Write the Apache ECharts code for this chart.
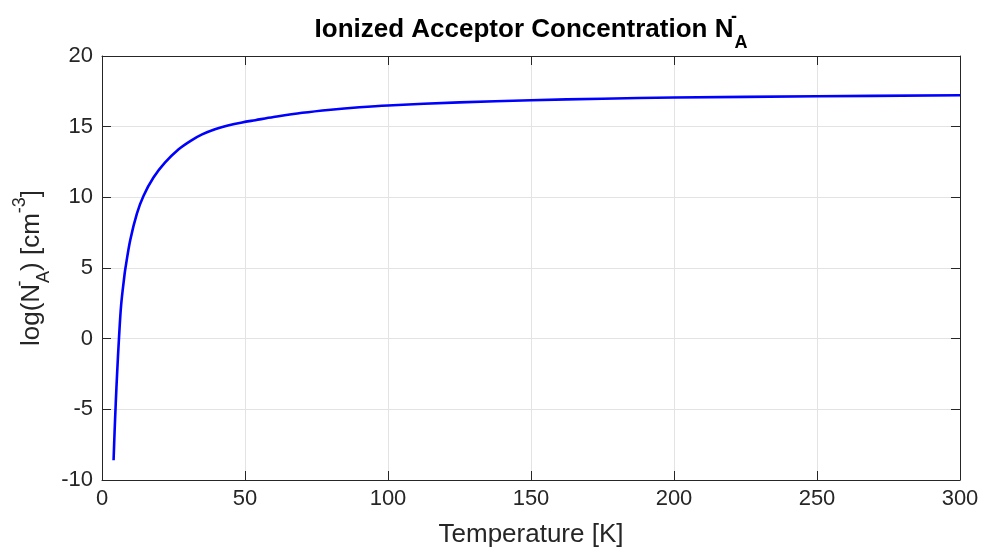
<!DOCTYPE html>
<html>
<head>
<meta charset="utf-8">
<title>Ionized Acceptor Concentration</title>
<script src="https://cdn.jsdelivr.net/npm/echarts@6/dist/echarts.min.js"></script>
<style>
  html, body { margin: 0; padding: 0; background: #ffffff; }
  #chart { width: 984px; height: 554px; }
</style>
</head>
<body>
<div id="chart"></div>
<script>
// Temperature samples [K] and log10 of the ionized acceptor density [cm^-3]
const temperature = [4.05, 4.4, 4.8, 5.3, 5.9, 6.7, 7.8, 8.2, 9.9, 12.2, 14.5, 18, 22, 26.8, 31, 35, 39.5, 44, 49, 53.6, 60, 70, 80, 90, 100, 125, 150, 175, 200, 250, 300];
const logNA = [-8.6, -6.6, -4.6, -2.4, -0.1, 2.4, 4.4, 5.0, 7.0, 8.85, 10.1, 11.4, 12.45, 13.4, 14.0, 14.45, 14.82, 15.08, 15.3, 15.46, 15.68, 15.98, 16.2, 16.37, 16.5, 16.72, 16.87, 16.98, 17.06, 17.15, 17.22];

const xTicks = [0, 50, 100, 150, 200, 250, 300];
const yTicks = [-10, -5, 0, 5, 10, 15, 20];

const FONT = "'Liberation Sans', Arial, Helvetica, sans-serif";
const AXIS_COLOR = '#262626';
const GRID_COLOR = '#e3e3e3';

const chart = echarts.init(document.getElementById('chart'), null, { renderer: 'canvas' });

const points = temperature.map((t, i) => [t, logNA[i]]);

const xRange = { min: xTicks[0], max: xTicks[xTicks.length - 1], interval: xTicks[1] - xTicks[0] };
const yRange = { min: yTicks[0], max: yTicks[yTicks.length - 1], interval: yTicks[1] - yTicks[0] };

const boxAxisCommon = {
  axisLine: { show: true, onZero: false, lineStyle: { color: AXIS_COLOR, width: 1 } },
  axisTick: { show: true, inside: true, length: 9, lineStyle: { color: AXIS_COLOR, width: 1 } },
};

chart.setOption({
  backgroundColor: '#ffffff',
  animation: false,
  grid: {
    left: 102, right: 24, top: 56, bottom: 74,
    containLabel: false,
    show: false
  },
  xAxis: [
    Object.assign({
      type: 'value',
      position: 'bottom',
      ...xRange,
      name: 'Temperature [K]',
      nameLocation: 'middle',
      nameGap: 42,
      nameTextStyle: { fontFamily: FONT, fontSize: 26, color: AXIS_COLOR },
      axisLabel: { fontFamily: FONT, fontSize: 22, color: AXIS_COLOR, margin: 8 },
      splitLine: { show: true, lineStyle: { color: GRID_COLOR, width: 1 } }
    }, boxAxisCommon),
    Object.assign({
      type: 'value',
      position: 'top',
      ...xRange,
      axisLabel: { show: false },
      splitLine: { show: false }
    }, boxAxisCommon)
  ],
  yAxis: [
    Object.assign({
      type: 'value',
      position: 'left',
      ...yRange,
      axisLabel: { fontFamily: FONT, fontSize: 22, color: AXIS_COLOR, margin: 9 },
      splitLine: { show: true, lineStyle: { color: GRID_COLOR, width: 1 } }
    }, boxAxisCommon),
    Object.assign({
      type: 'value',
      position: 'right',
      ...yRange,
      axisLabel: { show: false },
      splitLine: { show: false }
    }, boxAxisCommon)
  ],
  series: [{
    type: 'line',
    xAxisIndex: 0,
    yAxisIndex: 0,
    data: points,
    smooth: 0.35,
    showSymbol: false,
    symbol: 'none',
    lineStyle: { color: '#0000ff', width: 2.6 },
    z: 5
  }],
  graphic: [
    {
      type: 'text',
      x: 531,
      y: 30,
      style: {
        text: 'Ionized Acceptor Concentration N{sup|-}{sub|A}',
        fontFamily: FONT,
        fontSize: 26,
        fontWeight: 'bold',
        fill: '#000000',
        align: 'center',
        verticalAlign: 'middle',
        rich: {
          sup: { fontFamily: FONT, fontSize: 18, fontWeight: 'bold', fill: '#000000', verticalAlign: 'top', lineHeight: 44, width: 1 },
          sub: { fontFamily: FONT, fontSize: 18, fontWeight: 'bold', fill: '#000000', verticalAlign: 'bottom', lineHeight: 44 }
        }
      }
    },
    {
      type: 'text',
      x: 32,
      y: 268,
      rotation: Math.PI / 2,
      style: {
        text: 'log(N{sup|-}{sub|A}) [cm{sup3|-3}]',
        fontFamily: FONT,
        fontSize: 26,
        fill: AXIS_COLOR,
        align: 'center',
        verticalAlign: 'middle',
        rich: {
          sup: { fontFamily: FONT, fontSize: 18, fill: AXIS_COLOR, verticalAlign: 'top', lineHeight: 42, width: 1 },
          sub: { fontFamily: FONT, fontSize: 18, fill: AXIS_COLOR, verticalAlign: 'bottom', lineHeight: 42 },
          sup3: { fontFamily: FONT, fontSize: 18, fill: AXIS_COLOR, verticalAlign: 'top', lineHeight: 42 }
        }
      }
    }
  ]
});
</script>
</body>
</html>
